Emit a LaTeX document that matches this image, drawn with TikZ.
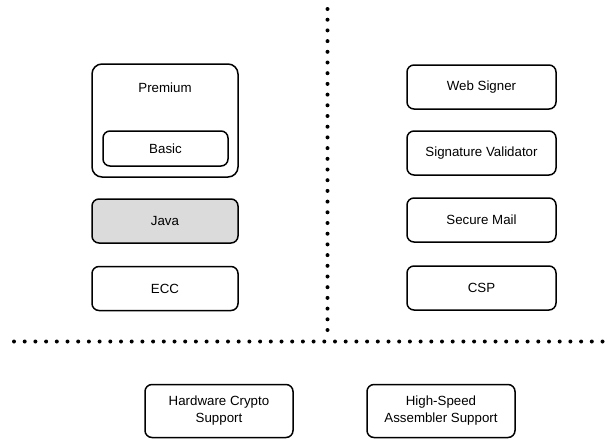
\documentclass[tikz,border=0pt]{standalone}
\usepackage{fontspec}
\setmainfont{Liberation Sans}
\usepackage{tikz}
\usetikzlibrary{positioning}

\tikzset{
    modbox/.style={draw=black, line width=1.5pt, rounded corners=7pt, fill=white,
        minimum width=147pt, minimum height=44pt, align=center, inner sep=0pt,
        font=\fontsize{13.3}{17}\selectfont},
    dotline/.style={line width=4pt, line cap=round, dash pattern=on 0pt off 10.7pt}
}

\begin{document}
\begin{tikzpicture}[x=1pt,y=-1pt]
    \useasboundingbox (0,0) rectangle (614,439);
    % separators
    \coordinate (vtop) at (327.5,9);
    \coordinate (vbot) at (327.5,336);
    \coordinate (hleft) at (14,341.5);
    \coordinate (hright) at (612,341.5);
    \draw[dotline] (vtop) -- (vbot);
    \draw[dotline] (hleft) -- (hright);
    % left column
    \node[modbox, minimum width=146pt, minimum height=113pt, rounded corners=10pt,
        label={[anchor=center, yshift=-24pt, font=\fontsize{13.3}{17}\selectfont]north:Premium}]
        (premium) at (165,120.5) {};
    \node[modbox, minimum width=125pt, minimum height=35pt] (basic) at (165.5,148.5) {Basic};
    \node[modbox, minimum width=146pt, fill=black!14] (java) at (165,221) {Java};
    \node[modbox, minimum width=146pt] (ecc) at (165,288.5) {ECC};
    % right column
    \node[modbox, minimum width=149pt] (websigner) at (481.5,87) {Web Signer};
    \node[modbox, minimum width=149pt] (sigval) at (481.5,153) {Signature Validator};
    \node[modbox, minimum width=149pt] (securemail) at (481.5,220) {Secure Mail};
    \node[modbox, minimum width=149pt] (csp) at (481.5,288) {CSP};
    % bottom row
    \node[modbox, minimum width=148pt, minimum height=53pt] (hwcrypto) at (219,411) {Hardware Crypto\\Support};
    \node[modbox, minimum width=148pt, minimum height=53pt] (asm) at (441,411) {High-Speed\\Assembler Support};
\end{tikzpicture}
\end{document}
